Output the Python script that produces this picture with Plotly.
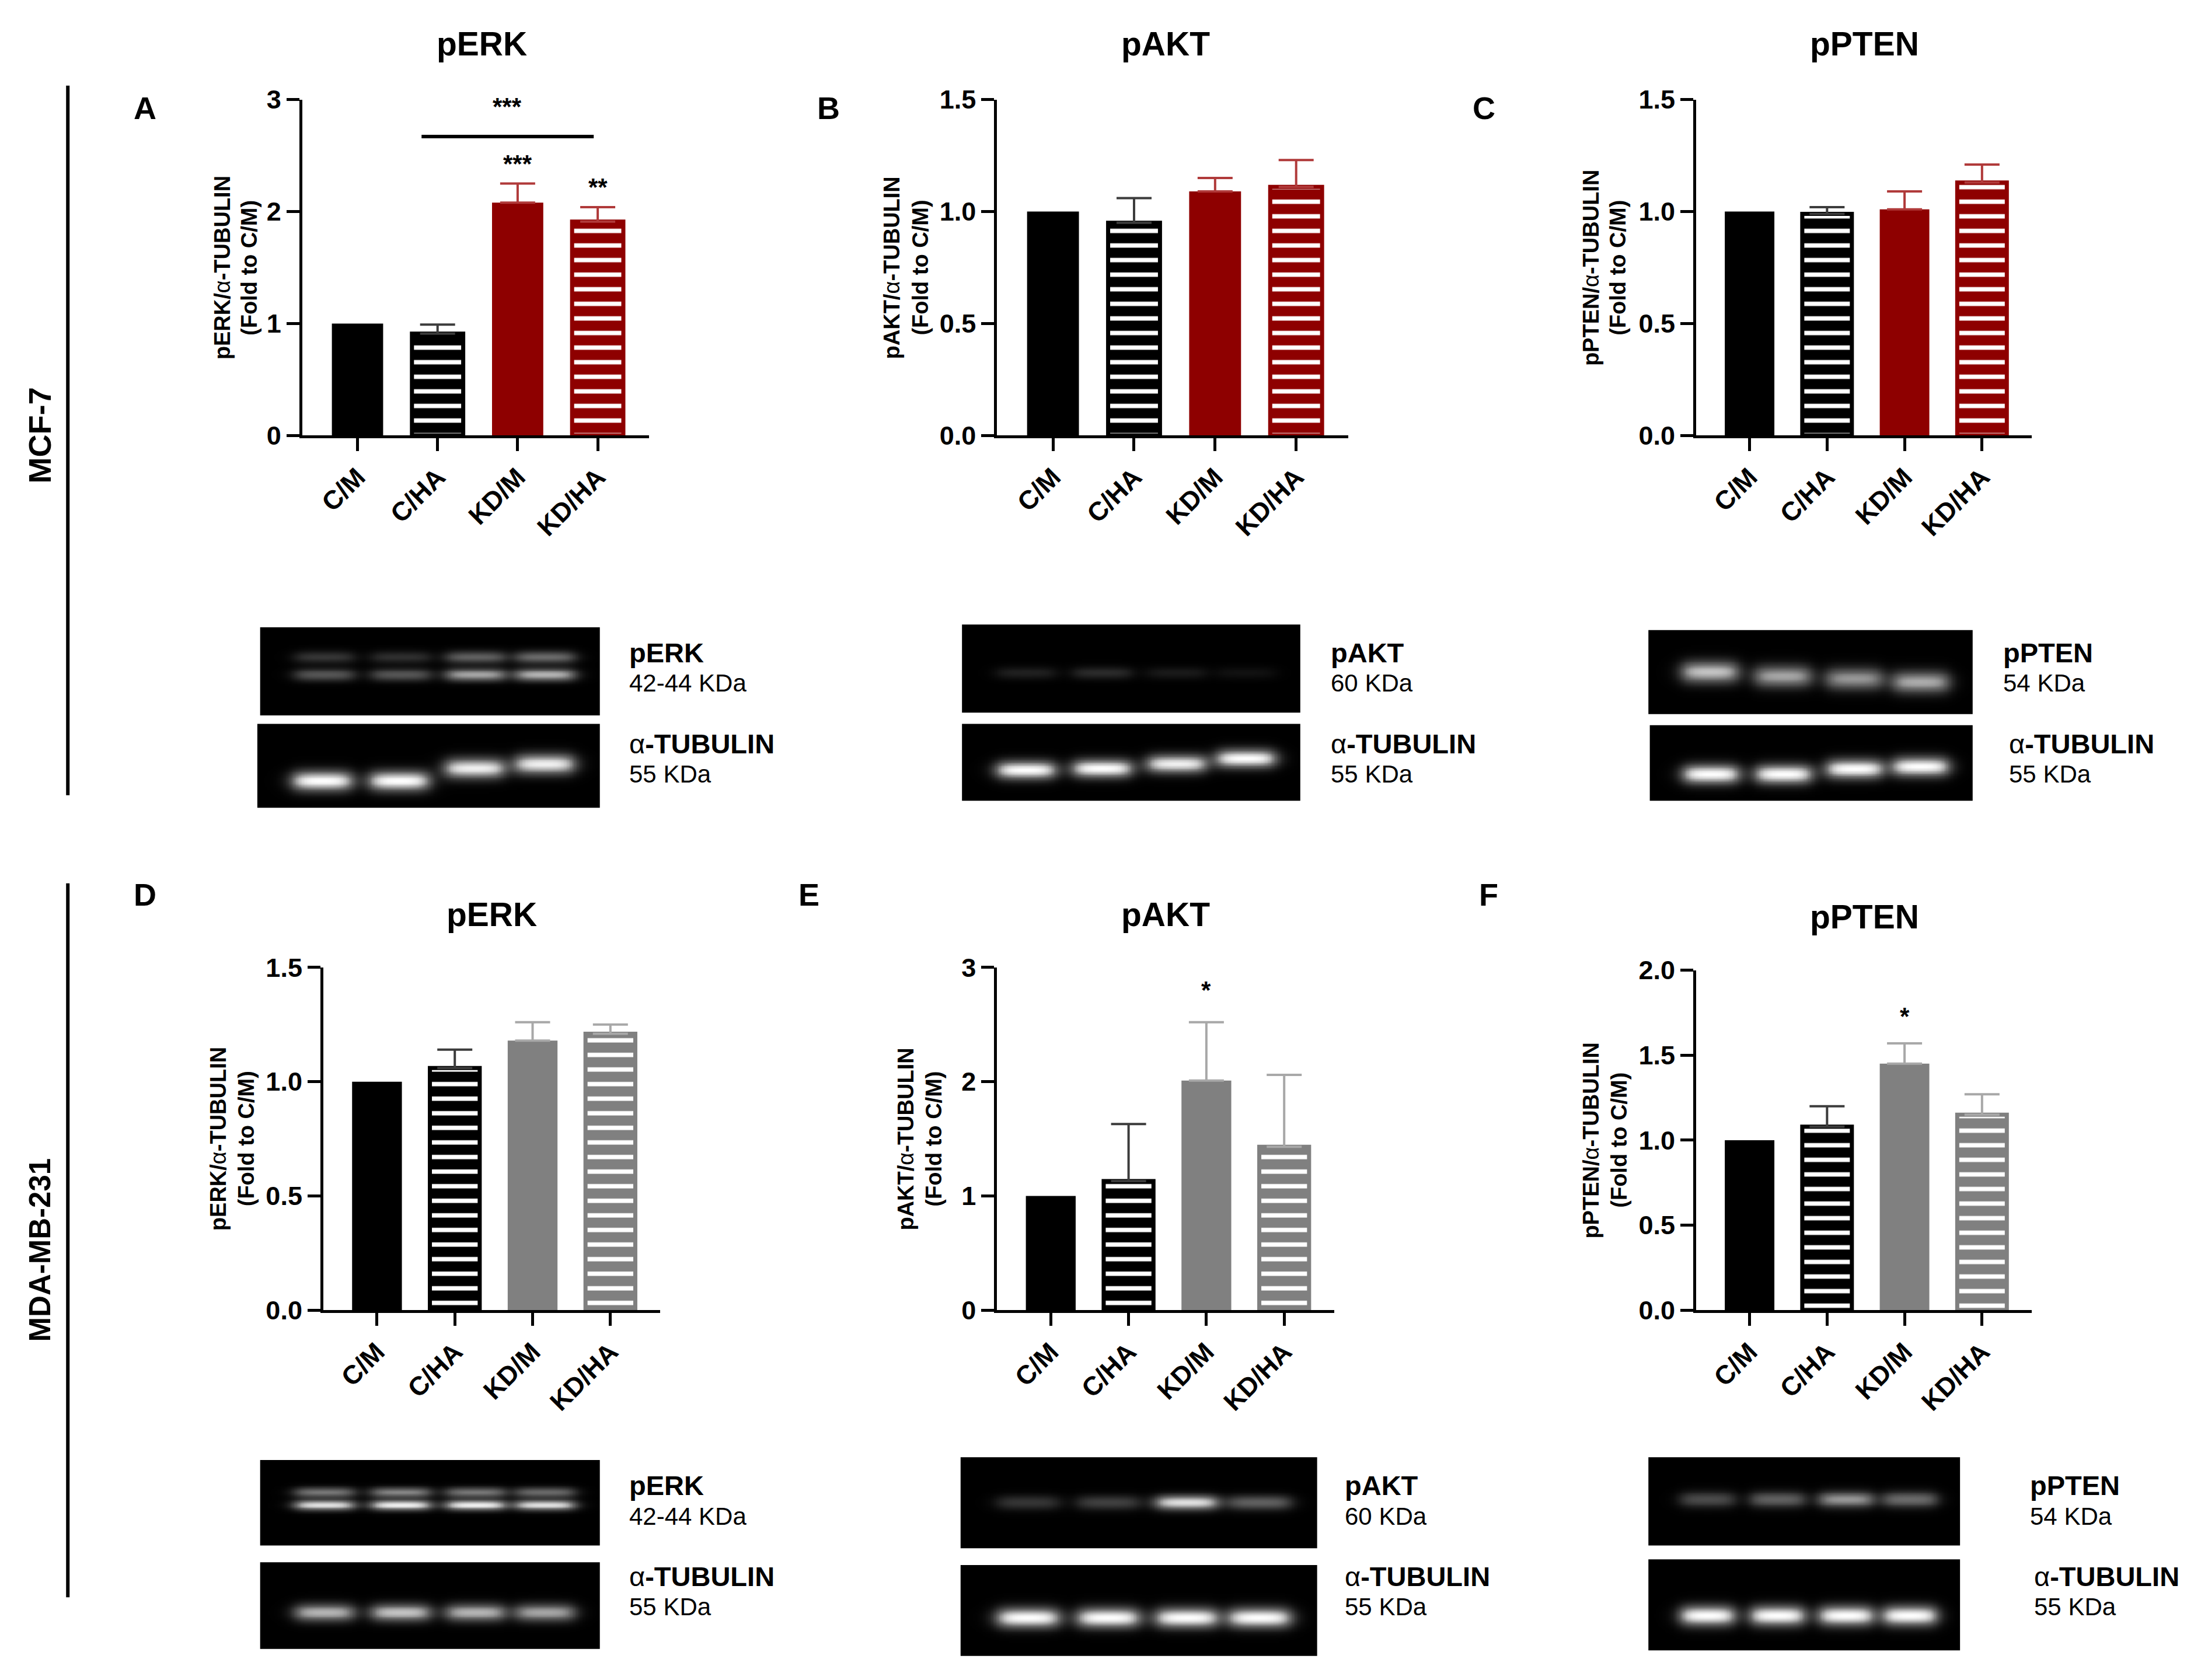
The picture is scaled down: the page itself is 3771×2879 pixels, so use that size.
import numpy as np
import plotly.graph_objects as go

# ── Canvas ─────────────────────────────────────────────
W, H = 3771, 2879
DW, DH = 1568, 1197          # layout measured on a 1568 px wide view


def px(x):
    # small correction for the page offset seen in the rendered page
    return (x - 3) / DW


def py(y):
    return 1 - ((y - 12.6) / 0.985) / DH


FONT = 'Liberation Sans, Arial, sans-serif'
NARROW = 'Liberation Sans Narrow, Liberation Sans, Arial, sans-serif'

BLACK = '#000000'
DARK_ERR = '#3c3c3c'
RED = '#8e0000'
RED_ERR = '#b03a3a'
GRAY = '#808080'
GRAY_ERR = '#a8a8a8'

# ── Data ───────────────────────────────────────────────
groups = ['C/M', 'C/HA', 'KD/M', 'KD/HA']

# mean fold change and top of the SEM bar, per group
mcf7_perk = [1.00, 0.91, 2.08, 1.91]
mcf7_perk_top = [1.00, 0.99, 2.25, 2.04]
mcf7_pakt = [1.00, 0.95, 1.09, 1.11]
mcf7_pakt_top = [1.00, 1.06, 1.15, 1.23]
mcf7_ppten = [1.00, 0.99, 1.01, 1.13]
mcf7_ppten_top = [1.00, 1.02, 1.09, 1.21]

mda_perk = [1.00, 1.06, 1.18, 1.21]
mda_perk_top = [1.00, 1.14, 1.26, 1.25]
mda_pakt = [1.00, 1.13, 2.01, 1.43]
mda_pakt_top = [1.00, 1.63, 2.52, 2.06]
mda_ppten = [1.00, 1.08, 1.45, 1.15]
mda_ppten_top = [1.00, 1.20, 1.57, 1.27]

# significance marks: (group index, height, text)
mcf7_perk_sig = [(2, 2.43, '***'), (3, 2.22, '**')]
mda_pakt_sig = [(2, 2.80, '*')]
mda_ppten_sig = [(2, 1.73, '*')]

# western blot band intensity per lane (0 = no signal, 1 = saturated)
blot_mcf7_perk = [(0.66, [0.25, 0.22, 0.45, 0.50]), (0.46, [0.40, 0.40, 0.70, 0.75])]
blot_mcf7_perk_tub = [([0.32, 0.32, 0.47, 0.52], [1.00, 1.00, 0.95, 0.95])]
blot_mcf7_pakt = [(0.45, [0.15, 0.20, 0.12, 0.08])]
blot_mcf7_pakt_tub = [([0.40, 0.42, 0.48, 0.55], [1.00, 1.00, 0.95, 1.00])]
blot_mcf7_ppten = [([0.50, 0.45, 0.42, 0.38], [0.80, 0.70, 0.65, 0.72])]
blot_mcf7_ppten_tub = [([0.35, 0.35, 0.42, 0.45], [1.00, 1.00, 1.00, 1.00])]
blot_mda_perk = [(0.62, [0.55, 0.60, 0.55, 0.50]), (0.47, [0.90, 0.95, 0.95, 0.90])]
blot_mda_perk_tub = [(0.42, [0.75, 0.80, 0.75, 0.70])]
blot_mda_pakt = [(0.50, [0.25, 0.30, 0.90, 0.45])]
blot_mda_pakt_tub = [(0.42, [1.00, 1.00, 1.00, 1.00])]
blot_mda_ppten = [(0.52, [0.35, 0.45, 0.65, 0.50])]
blot_mda_ppten_tub = [(0.38, [1.00, 1.00, 1.00, 1.00])]

LANE_X = [0.19, 0.415, 0.635, 0.84]
LANE_W = 0.17

# ── Panel setup ────────────────────────────────────────
row1_style = [(BLACK, '', BLACK, None),
              (BLACK, '-', BLACK, DARK_ERR),
              (RED, '', RED, RED_ERR),
              (RED, '-', RED, RED_ERR)]
row2_style = [(BLACK, '', BLACK, None),
              (BLACK, '-', BLACK, DARK_ERR),
              (GRAY, '', GRAY, GRAY_ERR),
              (GRAY, '-', GRAY, GRAY_ERR)]

panels = [
    dict(vals=mcf7_perk, tops=mcf7_perk_top, style=row1_style, dom=(215, 462, 70, 310),
         yr=[0, 3], ticks=[0, 1, 2, 3], fmt='{:.0f}', prot='pERK', letter='A',
         letter_xy=(103, 76), title_xy=(343, 30), ytitle_x=(158, 177), sig=mcf7_perk_sig),
    dict(vals=mcf7_pakt, tops=mcf7_pakt_top, style=row1_style, dom=(710, 960, 70, 310),
         yr=[0, 1.5], ticks=[0, 0.5, 1, 1.5], fmt='{:.1f}', prot='pAKT', letter='B',
         letter_xy=(590, 76), title_xy=(830, 30), ytitle_x=(635, 655), sig=[]),
    dict(vals=mcf7_ppten, tops=mcf7_ppten_top, style=row1_style, dom=(1208, 1447, 70, 310),
         yr=[0, 1.5], ticks=[0, 0.5, 1, 1.5], fmt='{:.1f}', prot='pPTEN', letter='C',
         letter_xy=(1057, 76), title_xy=(1328, 30), ytitle_x=(1133, 1152), sig=[]),
    dict(vals=mda_perk, tops=mda_perk_top, style=row2_style, dom=(230, 470, 690, 935),
         yr=[0, 1.5], ticks=[0, 0.5, 1, 1.5], fmt='{:.1f}', prot='pERK', letter='D',
         letter_xy=(103, 638), title_xy=(350, 652), ytitle_x=(155, 175), sig=[]),
    dict(vals=mda_pakt, tops=mda_pakt_top, style=row2_style, dom=(710, 950, 690, 935),
         yr=[0, 3], ticks=[0, 1, 2, 3], fmt='{:.0f}', prot='pAKT', letter='E',
         letter_xy=(576, 638), title_xy=(830, 652), ytitle_x=(645, 665), sig=mda_pakt_sig),
    dict(vals=mda_ppten, tops=mda_ppten_top, style=row2_style, dom=(1208, 1447, 692, 935),
         yr=[0, 2], ticks=[0, 0.5, 1, 1.5, 2], fmt='{:.1f}', prot='pPTEN', letter='F',
         letter_xy=(1060, 638), title_xy=(1328, 654), ytitle_x=(1133, 1153), sig=mda_ppten_sig),
]

blots = [
    (blot_mcf7_perk, (185, 427, 447, 510), (447, 465), 'pERK', '42-44 KDa', 0.07),
    (blot_mcf7_perk_tub, (183, 427, 516, 576), (447, 530), 'TUB', '55 KDa', 0.12),
    (blot_mcf7_pakt, (685, 926, 445, 508), (947, 465), 'pAKT', '60 KDa', 0.07),
    (blot_mcf7_pakt_tub, (685, 926, 516, 571), (947, 530), 'TUB', '55 KDa', 0.12),
    (blot_mcf7_ppten, (1174, 1405, 449, 509), (1426, 465), 'pPTEN', '54 KDa', 0.13),
    (blot_mcf7_ppten_tub, (1175, 1405, 517, 571), (1430, 530), 'TUB', '55 KDa', 0.13),
    (blot_mda_perk, (185, 427, 1042, 1103), (447, 1060), 'pERK', '42-44 KDa', 0.06),
    (blot_mda_perk_tub, (185, 427, 1115, 1177), (447, 1125), 'TUB', '55 KDa', 0.10),
    (blot_mda_pakt, (684, 938, 1040, 1105), (957, 1060), 'pAKT', '60 KDa', 0.08),
    (blot_mda_pakt_tub, (684, 938, 1117, 1182), (957, 1125), 'TUB', '55 KDa', 0.11),
    (blot_mda_ppten, (1174, 1396, 1040, 1103), (1445, 1060), 'pPTEN', '54 KDa', 0.09),
    (blot_mda_ppten_tub, (1174, 1396, 1113, 1178), (1448, 1125), 'TUB', '55 KDa', 0.11),
]

fig = go.Figure()
layout = {}
annotations = []
shapes = []

# ── Bar panels ─────────────────────────────────────────
for i, p in enumerate(panels, start=1):
    xa, ya = f'x{i}', f'y{i}'
    for k, (v, top, (col, pat, lcol, ecol)) in enumerate(zip(p['vals'], p['tops'], p['style'])):
        hatched = pat == '-'
        fig.add_trace(go.Bar(
            x=[k], y=[v], width=0.64, xaxis=xa, yaxis=ya, showlegend=False,
            marker=dict(
                color='white' if hatched else col,
                pattern=dict(shape=pat, fgcolor=col, bgcolor='white', fgopacity=1,
                             size=25, solidity=0.7),
                line=dict(color=lcol, width=7 if hatched else 0)),
            error_y=dict(type='data', symmetric=False, array=[top - v], arrayminus=[0],
                         color=ecol or col, thickness=4, width=30, visible=top > v),
        ))
    x0, x1, ytop, ybot = p['dom']
    layout[f'xaxis{i}'] = dict(
        domain=[px(x0), px(x1)], anchor=ya, range=[-0.69, 3.64],
        tickvals=list(range(4)), ticktext=[f'<b>{g}</b>' for g in groups], tickangle=-45,
        showline=True, linecolor='black', linewidth=5, ticks='outside',
        ticklen=22, tickwidth=5, tickcolor='black', showgrid=False, zeroline=False,
        tickfont=dict(family=FONT, size=45, color='black'), fixedrange=True)
    layout[f'yaxis{i}'] = dict(
        domain=[py(ybot), py(ytop)], anchor=xa, range=p['yr'],
        tickvals=p['ticks'], ticktext=['<b>' + p['fmt'].format(t) + '</b>' for t in p['ticks']],
        showline=True, linecolor='black', linewidth=5, ticks='outside',
        ticklen=22, tickwidth=5, tickcolor='black', showgrid=False, zeroline=False,
        tickfont=dict(family=FONT, size=45, color='black'), fixedrange=True)

    prot = p['prot']
    ymid = (py(ybot) + py(ytop)) / 2
    for line_x, line in zip(p['ytitle_x'],
                            [f'<b>{prot}/</b>α<b>-TUBULIN</b>', '<b>(Fold to C/M)</b>']):
        annotations.append(dict(
            text=line, x=px(line_x), y=ymid, xref='paper', yref='paper',
            textangle=-90, showarrow=False, xanchor='center', yanchor='middle',
            font=dict(family=FONT, size=38, color='black')))
    annotations.append(dict(
        text=f'<b>{prot}</b>', x=px(p['title_xy'][0]), y=py(p['title_xy'][1]),
        xref='paper', yref='paper', showarrow=False, xanchor='center', yanchor='middle',
        font=dict(family=FONT, size=57, color='black')))
    annotations.append(dict(
        text=f'<b>{p["letter"]}</b>', x=px(p['letter_xy'][0]), y=py(p['letter_xy'][1]),
        xref='paper', yref='paper', showarrow=False, xanchor='center', yanchor='middle',
        font=dict(family=FONT, size=54, color='black')))
    for k, h, s in p['sig']:
        annotations.append(dict(
            text=f'<b>{s}</b>', x=k, y=h, xref=xa, yref=ya, showarrow=False,
            xanchor='center', yanchor='middle', font=dict(family=FONT, size=42, color='black')))

# KD vs C bracket in panel A
shapes.append(dict(type='line', xref='x1', yref='y1', x0=0.8, x1=2.95, y0=2.67, y1=2.67,
                   line=dict(color='black', width=6)))
annotations.append(dict(text='<b>***</b>', x=1.87, y=2.94, xref='x1', yref='y1',
                        showarrow=False, font=dict(family=FONT, size=42, color='black')))

# ── Western blots ──────────────────────────────────────
gx = np.linspace(0, 1, 240)
gy = np.linspace(0, 1, 80)
for j, (bands, (x0, x1, ytop, ybot), (lx, ly), name, kda, sig) in enumerate(blots, start=len(panels) + 1):
    z = np.zeros((len(gy), len(gx)))
    for yb, inten in bands:
        ys = yb if isinstance(yb, list) else [yb] * len(LANE_X)
        for c, a, yl in zip(LANE_X, inten, ys):
            lane = (1 / (1 + np.exp(-(gx - (c - LANE_W / 2)) / 0.014)) *
                    1 / (1 + np.exp((gx - (c + LANE_W / 2)) / 0.014)))
            band = np.exp(-((gy - yl) / sig) ** 2)
            z += a * np.outer(band, lane)
    z = np.clip(z, 0, 1)
    xa, ya = f'x{j}', f'y{j}'
    fig.add_trace(go.Heatmap(
        x=gx, y=gy, z=z, xaxis=xa, yaxis=ya, zmin=0, zmax=1, showscale=False,
        colorscale=[[0, '#000000'], [0.5, '#6a6a6a'], [1, '#ffffff']], hoverinfo='skip'))
    layout[f'xaxis{j}'] = dict(domain=[px(x0), px(x1)], anchor=ya, range=[0, 1],
                               visible=False, fixedrange=True)
    layout[f'yaxis{j}'] = dict(domain=[py(ybot), py(ytop)], anchor=xa, range=[0, 1],
                               visible=False, fixedrange=True)
    head = 'α<b>-TUBULIN</b>' if name == 'TUB' else f'<b>{name}</b>'
    annotations.append(dict(text=head, x=px(lx), y=py(ly), xref='paper', yref='paper',
                            showarrow=False, xanchor='left', yanchor='middle',
                            font=dict(family=NARROW, size=47, color='black')))
    annotations.append(dict(text=kda, x=px(lx), y=py(ly + 22), xref='paper', yref='paper',
                            showarrow=False, xanchor='left', yanchor='middle',
                            font=dict(family=NARROW, size=42, color='black')))

# ── Cell line labels ───────────────────────────────────
for label, yc, y0, y1, fs in [('MCF-7', 310, 60, 567, 54), ('MDA-MB-231', 892, 630, 1140, 51)]:
    annotations.append(dict(text=f'<b>{label}</b>', x=px(28), y=py(yc), xref='paper',
                            yref='paper', textangle=-90, showarrow=False,
                            xanchor='center', yanchor='middle',
                            font=dict(family=FONT, size=fs, color='black')))
    shapes.append(dict(type='line', xref='paper', yref='paper', x0=px(48), x1=px(48),
                       y0=py(y0), y1=py(y1), line=dict(color='black', width=6)))

fig.update_layout(
    width=W, height=H, margin=dict(l=0, r=0, t=0, b=0),
    plot_bgcolor='white', paper_bgcolor='white', barmode='overlay',
    annotations=annotations, shapes=shapes, font=dict(family=FONT), **layout)

fig.write_html("out.html")
